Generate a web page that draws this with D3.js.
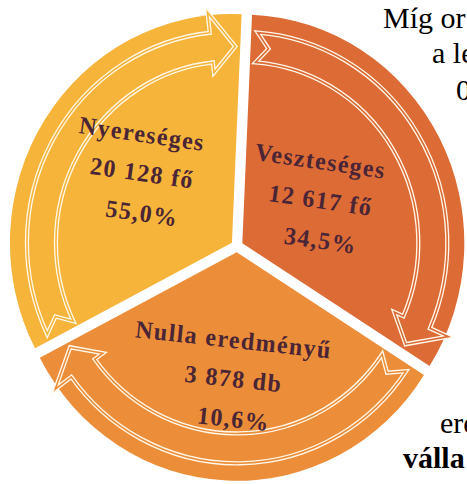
<!DOCTYPE html>
<html>
<head>
<meta charset="utf-8">
<script src="https://cdn.jsdelivr.net/npm/d3@7"></script>
<style>
  body { margin: 0; background: #fff; }
  svg { display: block; }
</style>
</head>
<body>
<div id="chart"></div>
<script>
// data (clockwise from the top)
var categories = ["Veszteséges", "Nulla eredményű", "Nyereséges"];
var counts = [12617, 3878, 20128];
var units = ["fő", "db", "fő"];
var shares = [34.5, 10.6, 55.0];

// side text that is cut off by the picture edge
var sideLines = ["Míg or", "a le", "0", "ere", "válla"];

// set the dimensions
var width = 467, height = 484;
var cx = 237, cy = 246, radius = 222, explode = 6, stretch = 1.03;
var colors = ["#dd6b36", "#ec8d39", "#f6b43a"];
// label centre: distance from the middle and turn off the slice bisector (deg)
var labelR = [88, 124, 112];
var labelTurn = [0, -1, 4];
var labelRot = [8, 6, 8];

var hu = d3.formatLocale({decimal: ",", thousands: " ", grouping: [3], currency: ["", ""]});
var fmtCount = hu.format(",d");
var fmtShare = hu.format(".1f");

var data = categories.map(function (c, i) {
  return {name: c, count: counts[i], unit: units[i], share: shares[i]};
});

var svg = d3.select("#chart")
  .append("svg")
  .attr("width", width)
  .attr("height", height);

// the diagram is a cycle: three equal slices, not sized by value
var pie = d3.pie()
  .sort(null)
  .value(function () { return 1; })
  .startAngle(2.5 * Math.PI / 180)
  .endAngle(362.5 * Math.PI / 180);

var arc = d3.arc()
  .innerRadius(0)
  .outerRadius(radius);

function pt(r, a) {
  return [r * Math.sin(a), -r * Math.cos(a)];
}

// curved arrow lying along the outer part of a slice
function arrowPath(d) {
  var r1 = radius - 46, r2 = radius - 17, rm = (r1 + r2) / 2;
  var a0 = d.startAngle + 6 / rm;
  var aT = d.endAngle - 5 / rm;
  var aH = aT - 24 / rm;
  var notch = 12 / rm;
  var p = d3.path();
  var s = pt(r2, a0);
  p.moveTo(s[0], s[1]);
  p.arc(0, 0, r2, a0 - Math.PI / 2, aH - Math.PI / 2, false);
  var q = pt(r2 + 20, aH); p.lineTo(q[0], q[1]);
  q = pt(rm, aT); p.lineTo(q[0], q[1]);
  q = pt(r1 - 10, aH); p.lineTo(q[0], q[1]);
  q = pt(r1, aH); p.lineTo(q[0], q[1]);
  p.arc(0, 0, r1, aH - Math.PI / 2, a0 - Math.PI / 2, true);
  q = pt(rm, a0 + notch); p.lineTo(q[0], q[1]);
  p.closePath();
  return p.toString();
}

var root = svg.append("g")
  .attr("transform", "translate(" + cx + "," + cy + ") scale(1," + stretch + ")");

var slices = root.selectAll("g.slice")
  .data(pie(data))
  .enter()
  .append("g")
  .attr("class", "slice")
  .attr("transform", function (d) {
    var m = (d.startAngle + d.endAngle) / 2;
    var o = pt(explode, m);
    return "translate(" + o[0] + "," + o[1] + ")";
  });

// Add slices
slices.append("path")
  .attr("d", arc)
  .style("fill", function (d, i) { return colors[i]; });

// Add arrows, white double outline
slices.append("path")
  .attr("d", arrowPath)
  .style("fill", function (d, i) { return colors[i]; })
  .style("stroke", "#fff8ea")
  .style("stroke-width", 4.2)
  .style("stroke-linejoin", "miter");
slices.append("path")
  .attr("d", arrowPath)
  .style("fill", "none")
  .style("stroke", function (d, i) { return colors[i]; })
  .style("stroke-width", 1.6);

// Add labels, each line tilted on its own
var labels = slices.append("g")
  .attr("transform", function (d, i) {
    var m = (d.startAngle + d.endAngle) / 2 + labelTurn[i] * Math.PI / 180;
    var o = pt(labelR[i], m);
    return "translate(" + o[0] + "," + o[1] + ")";
  })
  .style("font-family", "'Liberation Serif', 'Times New Roman', serif")
  .style("font-weight", "bold")
  .style("font-size", "24px")
  .style("letter-spacing", "1.4px")
  .style("fill", "#4a2535")
  .attr("text-anchor", "middle");

var lineText = [
  function (d) { return d.data.name; },
  function (d) { return fmtCount(d.data.count) + " " + d.data.unit; },
  function (d) { return fmtShare(d.data.share) + "%"; }
];
var lineDy = [-38, 0, 39];
lineText.forEach(function (f, k) {
  labels.append("text")
    .attr("transform", function (d) {
      var i = categories.indexOf(d.data.name);
      return "translate(0," + lineDy[k] + ") rotate(" + labelRot[i] + ")";
    })
    .attr("y", 7)
    .text(f);
});

// running text beside the diagram
var side = svg.append("g")
  .style("font-family", "'Liberation Serif', 'Times New Roman', serif")
  .style("font-size", "30px")
  .style("fill", "#000");
var sidePos = [[383, 28], [432, 63], [456, 100], [440, 433], [403, 468]];
side.selectAll("text")
  .data(sideLines)
  .enter()
  .append("text")
  .attr("x", function (d, i) { return sidePos[i][0]; })
  .attr("y", function (d, i) { return sidePos[i][1]; })
  .style("font-weight", function (d, i) { return i === 4 ? "bold" : "normal"; })
  .text(function (d) { return d; });
</script>
</body>
</html>
